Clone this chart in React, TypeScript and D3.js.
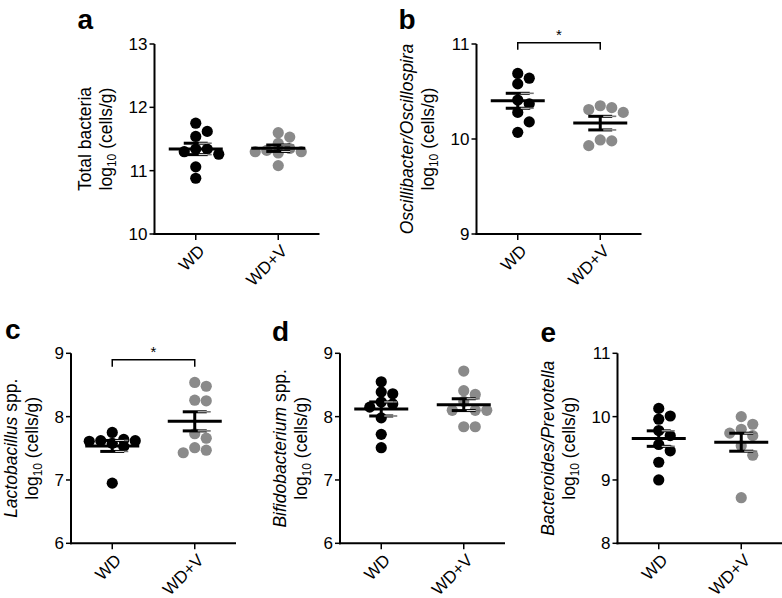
import React from 'react';
import * as d3 from 'd3';

const groups = ['WD', 'WD+V'];

// a: Total bacteria
const totalWD = [11.75, 11.62, 11.54, 11.34, 11.34, 11.30, 11.26, 11.06, 10.88];
const totalWDV = [11.60, 11.53, 11.43, 11.35, 11.32, 11.30, 11.30, 11.28, 11.08];
const totalTicks = [10, 11, 12, 13];

// b: Oscillibacter/Oscillospira
const oscWD = [10.69, 10.64, 10.58, 10.41, 10.37, 10.28, 10.18, 10.07];
const oscWDV = [10.35, 10.33, 10.31, 10.28, 9.99, 9.98, 9.93];
const oscTicks = [9, 10, 11];

// c: Lactobacillus spp.
const lactoWD = [7.75, 7.64, 7.62, 7.62, 7.61, 7.58, 7.53, 6.95];
const lactoWDV = [8.54, 8.48, 8.26, 8.25, 7.73, 7.66, 7.51, 7.47, 7.43];
const lactoTicks = [6, 7, 8, 9];

// d: Bifidobacterium spp.
const bifidoWD = [8.55, 8.39, 8.36, 8.23, 8.20, 8.15, 7.98, 7.72, 7.51];
const bifidoWDV = [8.72, 8.41, 8.35, 8.24, 8.10, 8.10, 8.10, 7.84, 7.84];
const bifidoTicks = [6, 7, 8, 9];

// e: Bacteroides/Prevotella
const bactWD = [10.13, 10.01, 9.96, 9.78, 9.70, 9.56, 9.46, 9.28, 9.00];
const bactWDV = [10.00, 9.88, 9.80, 9.74, 9.70, 9.54, 9.39, 8.72];
const bactTicks = [8, 9, 10, 11];

const FONT = "'Liberation Sans', Arial, Helvetica, sans-serif";
const AXIS_W = 165;

type Part = { t: string; it?: boolean };
type PanelCfg = {
  letter: string;
  left: number;
  top: number;
  bottom: number;
  ticks: number[];
  wd: number[];
  wdv: number[];
  title: Part[];
  sig?: number;
  letterDx: number;
  letterY: number;
};

const panels: PanelCfg[] = [
  { letter: 'a', left: 154.5, top: 44, bottom: 234, ticks: totalTicks, wd: totalWD, wdv: totalWDV,
    title: [{ t: 'Total bacteria' }], letterDx: -77, letterY: 29 },
  { letter: 'b', left: 476.5, top: 44, bottom: 234, ticks: oscTicks, wd: oscWD, wdv: oscWDV,
    title: [{ t: 'Oscillibacter/Oscillospira', it: true }], sig: 11.014, letterDx: -78, letterY: 29 },
  { letter: 'c', left: 71, top: 353.3, bottom: 543.3, ticks: lactoTicks, wd: lactoWD, wdv: lactoWDV,
    title: [{ t: 'Lactobacillus', it: true }, { t: ' spp.' }], sig: 8.9, letterDx: -66, letterY: 339 },
  { letter: 'd', left: 340, top: 353.3, bottom: 543.3, ticks: bifidoTicks, wd: bifidoWD, wdv: bifidoWDV,
    title: [{ t: 'Bifidobacterium', it: true }, { t: ' spp.' }], letterDx: -68, letterY: 341 },
  { letter: 'e', left: 617.5, top: 353.3, bottom: 543.3, ticks: bactTicks, wd: bactWD, wdv: bactWDV,
    title: [{ t: 'Bacteroides/Prevotella', it: true }], letterDx: -77, letterY: 342 },
];

function swarm(values: number[], y: (v: number) => number, cx: number) {
  const d = 11.5;
  const minDist = 10;
  const order = values.map((_, i) => i).sort((a, b) => values[b] - values[a]);
  const placed: { x: number; y: number }[] = [];
  const cands = [0, 1, -1, 2, -2];
  for (const i of order) {
    const py = y(values[i]);
    let chosen: number | null = null;
    let fallback = cx;
    let bestScore = -Infinity;
    for (const c of cands) {
      const px = cx + c * d;
      let mind = Infinity;
      for (const p of placed) mind = Math.min(mind, Math.hypot(p.x - px, p.y - py));
      if (mind >= minDist) { chosen = px; break; }
      if (mind > bestScore) { bestScore = mind; fallback = px; }
    }
    placed.push({ x: chosen ?? fallback, y: py });
  }
  return placed;
}

function Group({ values, cx, y, color }: { values: number[]; cx: number; y: d3.ScaleLinear<number, number>; color: string }) {
  const pts = swarm(values, y, cx);
  const m = d3.mean(values) as number;
  const sem = (d3.deviation(values) as number) / Math.sqrt(values.length);
  const yHi = y(m + sem);
  const yLo = y(m - sem);
  return (
    <g>
      {pts.map((p, i) => (
        <circle key={i} cx={p.x} cy={p.y} r={5.6} fill={color} />
      ))}
      <line x1={cx - 27} x2={cx + 27} y1={y(m)} y2={y(m)} stroke="#000" strokeWidth={3} />
      <line x1={cx} x2={cx} y1={yHi} y2={yLo} stroke="#000" strokeWidth={3} />
      {[yHi, yLo].map((cy, i) => (
        <g key={i}>
          <line x1={cx - 12} x2={cx + 12} y1={cy} y2={cy} stroke="#000" strokeWidth={3} />
          <line x1={cx + 3} x2={cx + 12} y1={cy} y2={cy} stroke="#fff" strokeWidth={0.9} />
          <line x1={cx + 12} x2={cx + 16} y1={cy} y2={cy} stroke="#777" strokeWidth={1.6} />
        </g>
      ))}
    </g>
  );
}

function Panel({ cfg }: { cfg: PanelCfg }) {
  const y = d3.scaleLinear().domain([cfg.ticks[0], cfg.ticks[cfg.ticks.length - 1]]).range([cfg.bottom, cfg.top]);
  const x = d3.scalePoint<string>().domain(groups).range([cfg.left, cfg.left + AXIS_W]).padding(0.5);
  const twoDigit = cfg.ticks.some((t) => t >= 10);
  const l2 = cfg.left - (twoDigit ? 43 : 33);
  const l1 = l2 - 21;
  const yc = (cfg.top + cfg.bottom) / 2;
  const xWD = x('WD') as number;
  const xWDV = x('WD+V') as number;
  return (
    <g fontFamily={FONT}>
      <text x={cfg.left + cfg.letterDx} y={cfg.letterY} fontSize={28} fontWeight="bold">{cfg.letter}</text>
      {/* y axis */}
      <line x1={cfg.left} x2={cfg.left} y1={cfg.top} y2={cfg.bottom + 1} stroke="#000" strokeWidth={2} />
      {cfg.ticks.map((t) => (
        <g key={t}>
          <line x1={cfg.left - 5} x2={cfg.left} y1={y(t)} y2={y(t)} stroke="#000" strokeWidth={1.5} />
          <text x={cfg.left - 7} y={y(t)} dy="0.35em" textAnchor="end" fontSize={17}>{t}</text>
        </g>
      ))}
      {/* x axis */}
      <line x1={cfg.left - 1} x2={cfg.left + AXIS_W} y1={cfg.bottom} y2={cfg.bottom} stroke="#000" strokeWidth={2} />
      {groups.map((g) => (
        <g key={g}>
          <line x1={x(g)} x2={x(g)} y1={cfg.bottom} y2={cfg.bottom + 6} stroke="#000" strokeWidth={1.5} />
          <text transform={`translate(${(x(g) as number) + 10},${cfg.bottom + 18}) rotate(-45)`} textAnchor="end" fontSize={17}>{g}</text>
        </g>
      ))}
      {/* y title */}
      <text transform={`translate(${l1},${yc}) rotate(-90)`} textAnchor="middle" fontSize={17.5}>
        {cfg.title.map((p, i) => (
          <tspan key={i} fontStyle={p.it ? 'italic' : 'normal'}>{p.t}</tspan>
        ))}
      </text>
      <text transform={`translate(${l2},${yc}) rotate(-90)`} textAnchor="middle" fontSize={17.5}>
        log<tspan fontSize={12} dy={4}>10</tspan><tspan dy={-4}> (cells/g)</tspan>
      </text>
      <Group values={cfg.wd} cx={xWD} y={y} color="#000" />
      <Group values={cfg.wdv} cx={xWDV} y={y} color="#8a8a8a" />
      {cfg.sig !== undefined && (
        <g>
          <path d={`M${xWD},${y(cfg.sig) + 7}V${y(cfg.sig)}H${xWDV}V${y(cfg.sig) + 7}`} fill="none" stroke="#000" strokeWidth={1.5} />
          <text x={(xWD + xWDV) / 2} y={y(cfg.sig) - 3} textAnchor="middle" fontSize={15}>*</text>
        </g>
      )}
    </g>
  );
}

export default function App() {
  return (
    <svg width={782} height={598} style={{ position: 'absolute', left: 0, top: 0, background: '#fff' }}>
      <rect width={782} height={598} fill="#fff" />
      {panels.map((p) => (
        <Panel key={p.letter} cfg={p} />
      ))}
    </svg>
  );
}
